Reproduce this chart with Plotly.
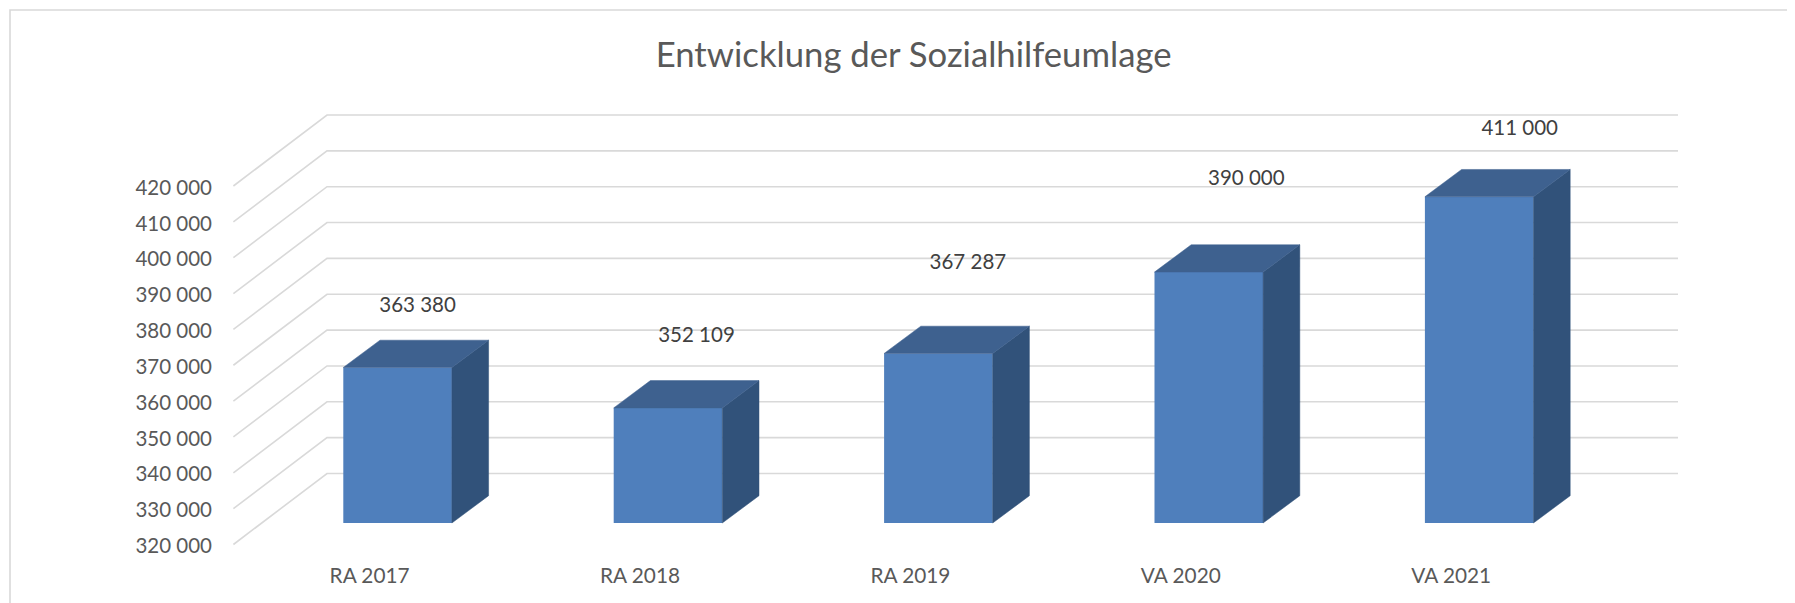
import plotly.graph_objects as go

categories = ["RA 2017", "RA 2018", "RA 2019", "VA 2020", "VA 2021"]
values = [363380, 352109, 367287, 390000, 411000]
value_labels = ["363 380", "352 109", "367 287", "390 000", "411 000"]
y_ticks = [320000, 330000, 340000, 350000, 360000, 370000, 380000, 390000, 400000, 410000, 420000]

# manual label placement in the original chart (px offset from bar front-top centre)
label_dx_px = [20.0, 28.5, 29.5, 37.5, 40.5]
label_dy_px = [61, 71, 90, 92, 67]

PAGE = 8            # the page's own body margin
W, H = 1795 - PAGE, 603 - PAGE
PX_PER_UNIT = 35.85 / 10000
BASE = 320000
SPACING = 270.4
X0 = 397.6 - PAGE          # px centre of first bar
BAR_BOTTOM = 523.0 - PAGE  # px of the bar front bottom
WALL_FRONT_BOTTOM = 544.5 - PAGE
WALL_FRONT_X = 233.4 - PAGE
WALL_BACK_X = 327.0 - PAGE
WALL_BACK_BOTTOM = 473.5 - PAGE
GRID_RIGHT = 1678.0 - PAGE
BAR_W = 108.6

ux = lambda px: px / SPACING
uy = lambda px: px / PX_PER_UNIT
xr = [ux(0 - X0), ux(W - X0)]
yr = [BASE - uy(H - BAR_BOTTOM), BASE + uy(BAR_BOTTOM)]
y2r = [BASE - uy(H - WALL_FRONT_BOTTOM - 1.5), BASE + uy(WALL_FRONT_BOTTOM + 1.5)]

depth_x = ux(36.7)
depth_y = uy(27.3)
half = ux(BAR_W) / 2
idx = list(range(len(categories)))

fig = go.Figure()

# grid: back-wall and side-wall lines (base subplot, underneath the bars)
back_shift = uy(BAR_BOTTOM - WALL_BACK_BOTTOM)
front_shift = uy(BAR_BOTTOM - WALL_FRONT_BOTTOM)
gx, gy = [], []
for t in y_ticks:
    gx += [ux(WALL_FRONT_X - X0), ux(WALL_BACK_X - X0), ux(GRID_RIGHT - X0), None]
    gy += [t + front_shift, t + back_shift, t + back_shift, None]
fig.add_trace(go.Scatter(x=gx, y=gy, mode="lines", line=dict(color="#d9d9d9", width=1.6),
                         hoverinfo="skip", showlegend=False))

# right and top faces of each bar
for i, v in zip(idx, values):
    xl, xr_ = i - half, i + half
    fig.add_trace(go.Scatter(
        x=[xr_, xr_ + depth_x, xr_ + depth_x, xr_, xr_],
        y=[BASE, BASE + depth_y, v + depth_y, v, BASE],
        yaxis="y3", mode="lines", fill="toself", fillcolor="#31527a",
        line=dict(color="#31527a", width=0.5), hoverinfo="skip", showlegend=False))
    fig.add_trace(go.Scatter(
        x=[xl, xl + depth_x, xr_ + depth_x, xr_, xl],
        y=[v, v + depth_y, v + depth_y, v, v],
        yaxis="y3", mode="lines", fill="toself", fillcolor="#3e618f",
        line=dict(color="#3e618f", width=0.5), hoverinfo="skip", showlegend=False))

# front faces
fig.add_trace(go.Bar(x=idx, y=[v - BASE for v in values], base=BASE, width=ux(BAR_W), yaxis="y3",
                     marker=dict(color="#4f7fbc", line=dict(width=0)), showlegend=False))

# data labels
fig.add_trace(go.Scatter(
    x=[i + ux(d) for i, d in zip(idx, label_dx_px)],
    y=[v + uy(d) for v, d in zip(values, label_dy_px)],
    yaxis="y3", mode="text", text=value_labels, textposition="middle center",
    textfont=dict(family="Lato, Carlito, sans-serif", size=20.5, color="#404040"),
    hoverinfo="skip", showlegend=False))

# invisible carrier for value axis (wall-front plane)
fig.add_trace(go.Scatter(x=[idx[0]], y=[y_ticks[0]], yaxis="y2", mode="markers",
                         marker=dict(opacity=0), hoverinfo="skip", showlegend=False))

fig.update_layout(
    width=W, height=H,
    margin=dict(l=0, r=0, t=0, b=0),
    autosize=False,
    paper_bgcolor="white", plot_bgcolor="white",
    separators=", ",
    font=dict(family="Lato, Carlito, sans-serif", color="#595959"),
    title=dict(text="Entwicklung der Sozialhilfeumlage",
               x=(913.6 - PAGE) / W, xanchor="center", y=1 - (55 - PAGE) / H, yanchor="middle",
               font=dict(size=34.7, color="#595959")),
    xaxis=dict(range=xr, domain=[0, 1], anchor="free", position=(H - (561 - PAGE)) / H,
               tickmode="array", tickvals=idx, ticktext=categories,
               ticklabelshift=-28, showgrid=False, zeroline=False, showline=False, ticks="",
               tickfont=dict(size=20.8, color="#595959")),
    yaxis=dict(range=yr, domain=[0, 1], visible=False),
    yaxis3=dict(range=yr, domain=[0, 1], visible=False, overlaying="y"),
    yaxis2=dict(range=y2r, domain=[0, 1], overlaying="y", anchor="free", position=(212 - PAGE) / W, side="left",
                tickmode="array", tickvals=y_ticks, tickformat=",d",
                showgrid=False, zeroline=False, showline=False, ticks="",
                tickfont=dict(size=20.5, color="#595959")),
    shapes=[dict(type="rect", xref="paper", yref="paper",
                 x0=(10 - PAGE) / W, x1=1.02, y0=-0.02, y1=1 - (10 - PAGE) / H,
                 line=dict(color="#d9d9d9", width=1.6), fillcolor="rgba(0,0,0,0)", layer="below")],
)

fig.write_html("out.html")
